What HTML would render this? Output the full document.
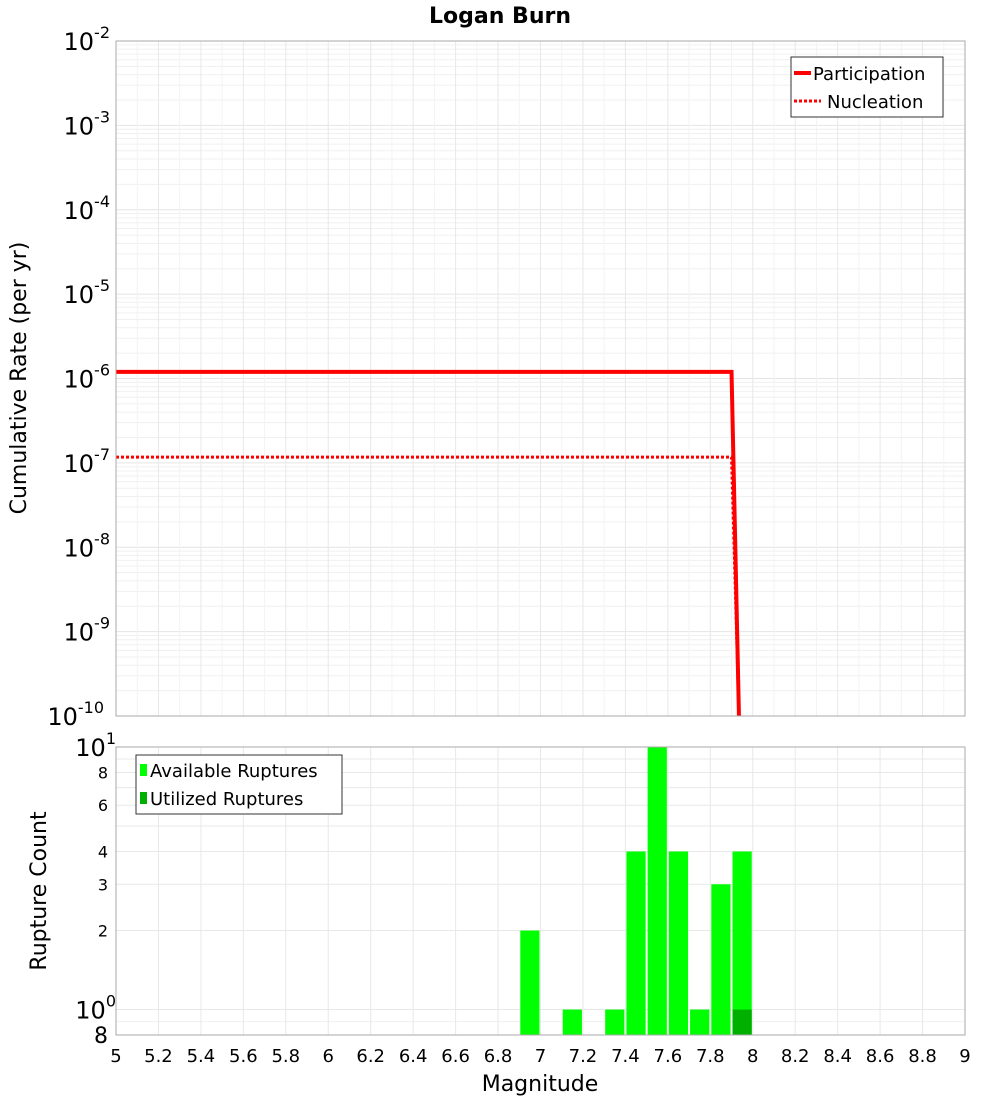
<!DOCTYPE html>
<html><head><meta charset="utf-8"><style>
html,body{margin:0;padding:0;background:#fff;}
svg{display:block;font-family:"DejaVu Sans","Liberation Sans",sans-serif;}
</style></head><body>
<svg id="chart" width="1000" height="1100" xmlns="http://www.w3.org/2000/svg"></svg>
<script>
const partX=[5,7.9,7.935];
const partY=[1.2e-6,1.2e-6,1e-10];
const nuclX=[5,7.9,7.935];
const nuclY=[1.17e-7,1.17e-7,1e-10];
const binCenters=[6.95,7.15,7.35,7.45,7.55,7.65,7.75,7.85,7.95];
const availCounts=[2,1,1,4,10,4,1,3,4];
const utilCenters=[7.95];
const utilCounts=[1];
const xTicks=[5,5.2,5.4,5.6,5.8,6,6.2,6.4,6.6,6.8,7,7.2,7.4,7.6,7.8,8,8.2,8.4,8.6,8.8,9];
const topExps=[-2,-3,-4,-5,-6,-7,-8,-9,-10];
const botTicks=[10,8,6,4,3,2,1,0.8];

const NS="http://www.w3.org/2000/svg";
const svg=document.getElementById('chart');
function el(t,a,p){const e=document.createElementNS(NS,t);for(const k in a)e.setAttribute(k,a[k]);(p||svg).appendChild(e);return e;}
const L=116,R=965,T1=41,B1=716,T2=747,B2=1035;
const xs=v=>L+(v-5)/4*(R-L);
const y1=v=>T1+(-2-Math.log10(v))/8*(B1-T1);
const y2=v=>T2+(1-Math.log10(v))/(1-Math.log10(0.8))*(B2-T2);

let t=el('text',{x:500,y:23,'text-anchor':'middle','font-size':22,'font-weight':'bold'});t.textContent='Logan Burn';


const g=el('g',{});
for(let e=-10;e<-2;e++)for(let m=1;m<10;m++){const v=m*Math.pow(10,e);el('line',{x1:L,x2:R,y1:y1(v),y2:y1(v),stroke:m==1?'#e4e4e4':'#f0f0f0','stroke-width':1},g);}
for(let m=1;m<=10;m++){const v=m;el('line',{x1:L,x2:R,y1:y2(v),y2:y2(v),stroke:'#e8e8e8'},g);}
el('line',{x1:L,x2:R,y1:y2(0.9),y2:y2(0.9),stroke:'#f0f0f0'},g);
xTicks.forEach(v=>{el('line',{x1:xs(v),x2:xs(v),y1:T1,y2:B1,stroke:'#e8e8e8'},g);el('line',{x1:xs(v),x2:xs(v),y1:T2,y2:B2,stroke:'#e8e8e8'},g);});
for(let v=5.1;v<9;v+=0.2){el('line',{x1:xs(v),x2:xs(v),y1:T1,y2:B1,stroke:'#f3f3f3'},g);}

function poly(X,Y,name,dash){const p=el('polyline',{points:X.map((x,i)=>xs(x)+','+y1(Y[i])).join(' '),fill:'none',stroke:'#ff0000','stroke-width':dash?3:4});if(dash)p.setAttribute('stroke-dasharray','3,2');}
poly(nuclX,nuclY,'nucleation-line',true);
poly(partX,partY,'participation-line',false);
el('rect',{x:L,y:T1,width:R-L,height:B1-T1,fill:'none',stroke:'#aaa'});

topExps.forEach(e=>{const tx=el('text',{x:e==-10?104:110,y:y1(Math.pow(10,e))+9,'text-anchor':'end','font-size':24});tx.innerHTML='10<tspan font-size="16" dy="-12">'+e+'</tspan>';});
t=el('text',{x:26,y:378,'text-anchor':'middle','font-size':22,transform:'rotate(-90 26 378)'});t.textContent='Cumulative Rate (per yr)';


const lg=el('g',{});
el('rect',{x:791,y:57,width:152,height:60,fill:'#fff',stroke:'#333'},lg);
el('line',{x1:794,x2:811,y1:73,y2:73,stroke:'#f00','stroke-width':4},lg);
el('line',{x1:794,x2:821,y1:101,y2:101,stroke:'#f00','stroke-width':3,'stroke-dasharray':'3,2'},lg);
t=el('text',{x:813,y:80,'font-size':18},lg);t.textContent='Participation';
t=el('text',{x:827,y:108,'font-size':18},lg);t.textContent='Nucleation';

const bw=(xs(5.1)-xs(5))-2;
binCenters.forEach((c,i)=>{const r=el('rect',{x:xs(c)-bw/2,y:y2(availCounts[i]),width:bw,height:B2-y2(availCounts[i]),fill:'#00ff00'});});
utilCenters.forEach((c,i)=>{const r=el('rect',{x:xs(c)-bw/2,y:y2(utilCounts[i]),width:bw,height:B2-y2(utilCounts[i]),fill:'#00b000'});});
el('rect',{x:L,y:T2,width:R-L,height:B2-T2,fill:'none',stroke:'#aaa'});

botTicks.forEach(v=>{let tx;if(v==10||v==1){tx=el('text',{x:116,y:y2(v)+9,'text-anchor':'end','font-size':24});tx.innerHTML='10<tspan font-size="16" dy="-12">'+(v==10?1:0)+'</tspan>';}else{tx=el('text',{x:v==0.8?108:108,y:y2(v)+(v==0.8?8:6),'text-anchor':'end','font-size':v==0.8?22:16});tx.textContent=v==0.8?'8':String(v);}});
t=el('text',{x:46,y:891,'text-anchor':'middle','font-size':22,transform:'rotate(-90 46 891)'});t.textContent='Rupture Count';


xTicks.forEach(v=>{const tx=el('text',{x:xs(v),y:1062,'text-anchor':'middle','font-size':18});tx.textContent=String(v);});
t=el('text',{x:540,y:1091,'text-anchor':'middle','font-size':22});t.textContent='Magnitude';


const lg2=el('g',{});
el('rect',{x:136,y:755,width:206,height:59,fill:'#fff',stroke:'#333'},lg2);
el('rect',{x:140,y:764,width:7,height:12,fill:'#00ff00'},lg2);
el('rect',{x:140,y:792,width:7,height:12,fill:'#00b000'},lg2);
t=el('text',{x:150,y:777,'font-size':18},lg2);t.textContent='Available Ruptures';
t=el('text',{x:150,y:805,'font-size':18},lg2);t.textContent='Utilized Ruptures';
</script>
</body></html>
